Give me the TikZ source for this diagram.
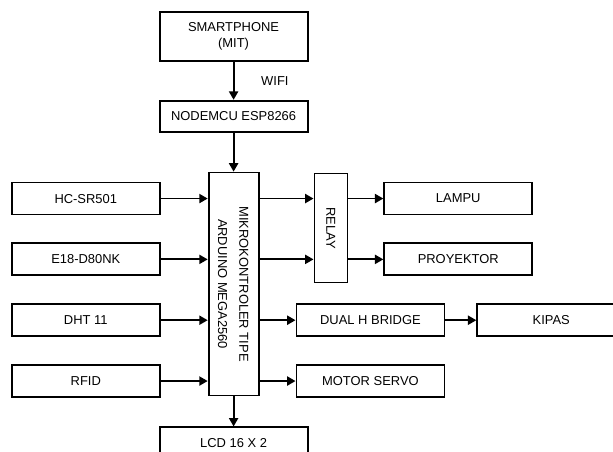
\documentclass[tikz,border=0pt]{standalone}
\usepackage{fontspec}
\setmainfont{Liberation Sans}
\usepackage{tikz}
\usetikzlibrary{positioning, arrows.meta, calc}

\begin{document}
\begin{tikzpicture}[
  node distance=0.2cm,
  every node/.style={font=\fontsize{9.2}{11}\selectfont},
  blok/.style={
    draw, line width=1.3pt, align=center, inner sep=2pt,
    minimum width=3.7cm, minimum height=0.8cm
  },
  panah/.style={line width=1.3pt, -{Triangle[length=6pt,width=6.5pt]}},
]

\useasboundingbox (0,0) rectangle (15.325,-11.3);

% Input dari smartphone
\node[blok, minimum height=1.225cm] (hp) at (5.84,-0.91) {SMARTPHONE\\(MIT)};
\node[blok, minimum height=0.775cm, below=0.95cm of hp] (esp) {NODEMCU ESP8266};

% Mikrokontroler
\node[blok, minimum width=1.25cm, minimum height=5.575cm, below=0.975cm of esp] (mega) {
  \rotatebox{-90}{\begin{tabular}{@{}c@{}}MIKROKONTROLER TIPE\\[4pt]ARDUINO MEGA2560\end{tabular}}
};
\node[blok, minimum height=0.775cm, below=0.75cm of mega] (lcd) {LCD 16 X 2};

% Sensor
\node[blok, anchor=north east] (pir) at ([xshift=-1.175cm, yshift=-0.25cm]mega.north west) {HC-SR501};
\node[blok, below=0.675cm of pir] (e18) {E18-D80NK};
\node[blok, below=0.675cm of e18] (dht) {DHT 11};
\node[blok, below=0.675cm of dht] (rfid) {RFID};

% Aktuator
\node[blok, minimum width=0.825cm, minimum height=2.725cm, anchor=north west] (relay)
  at ([xshift=1.35cm, yshift=-0.025cm]mega.north east) {\rotatebox{-90}{RELAY}};
\node[blok, anchor=west] (lampu) at ($(relay.east |- pir.east)+(0.875,0)$) {LAMPU};
\node[blok, anchor=west] (proyektor) at ($(relay.east |- e18.east)+(0.875,0)$) {PROYEKTOR};
\node[blok, anchor=west] (driver) at ($(mega.east |- dht.east)+(0.9,0)$) {DUAL H BRIDGE};
\node[blok, right=0.775cm of driver] (kipas) {KIPAS};
\node[blok, anchor=west] (servo) at ($(mega.east |- rfid.east)+(0.9,0)$) {MOTOR SERVO};

% Panah
\draw[panah] (hp) -- node[right=0.55cm] (wifi) {WIFI} (esp);
\draw[panah] (esp) -- (mega);
\draw[panah] (mega) -- (lcd);
\foreach \s in {pir, e18, dht, rfid}
  \draw[panah] (\s.east) -- (\s.east -| mega.west);
\draw[panah] (mega.east |- lampu) -- (relay.west |- lampu);
\draw[panah] (mega.east |- proyektor) -- (relay.west |- proyektor);
\draw[panah] (relay.east |- lampu) -- (lampu);
\draw[panah] (relay.east |- proyektor) -- (proyektor);
\draw[panah] (mega.east |- driver) -- (driver);
\draw[panah] (mega.east |- servo) -- (servo);
\draw[panah] (driver) -- (kipas);

\end{tikzpicture}
\end{document}
